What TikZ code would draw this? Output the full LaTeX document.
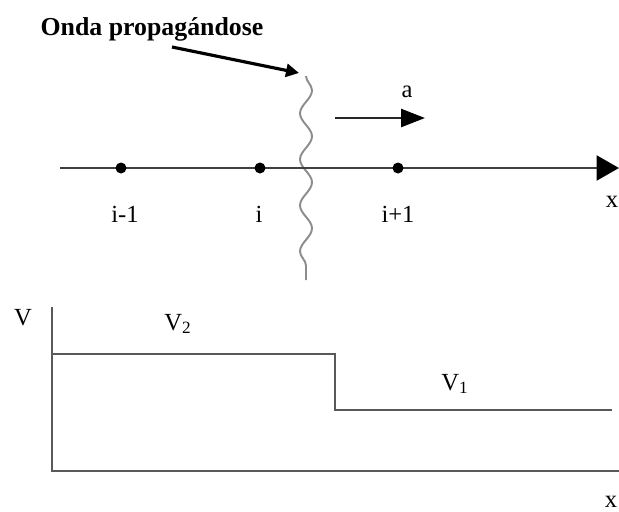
\documentclass[tikz,border=0pt]{standalone}
\usepackage{fontspec}
\setmainfont{Liberation Serif}
\usetikzlibrary{arrows.meta,decorations.pathmorphing}
\begin{document}
\begin{tikzpicture}[x=0.02cm,y=-0.02cm,
  lbl/.style={inner sep=0pt,font=\fontsize{14}{16}\selectfont},
  dotp/.style={circle,fill=black,inner sep=0pt,minimum size=0.22cm},
  axisline/.style={line width=1.5pt,draw=black!75},
  plotline/.style={line width=1.5pt,draw=black!65},
  bigtip/.style={-{Triangle[length=0.45cm,width=0.5cm,color=black]}}]
\useasboundingbox (0,0) rectangle (619,511);
% title and pointer
\node[inner sep=0pt,font=\bfseries\fontsize{14.7}{16}\selectfont] (title) at (152,29) {Onda propagándose};
\coordinate (ptail) at (172,47);
\coordinate (phead) at (299,73);
\draw[line width=1.8pt,-{Triangle[length=0.26cm,width=0.26cm]}] (ptail) -- (phead);
% wave front
\coordinate (wtop) at (306,76);
\coordinate (wbot) at (306,280);
\draw[black!45,line width=1.1pt,decorate,decoration={snake,segment length=0.92cm,amplitude=0.12cm}] (wtop) -- (wbot);
% direction arrow
\coordinate (atail) at (335,118);
\coordinate (ahead) at (425,118);
\draw[line width=1.5pt,draw=black!85,-{Triangle[length=0.48cm,width=0.36cm,color=black]}] (atail) -- (ahead);
\node[lbl] (alab) at (407,92) {a};
% x axis
\coordinate (xstart) at (60,168);
\coordinate (xend) at (619,168);
\draw[axisline,bigtip] (xstart) -- (xend);
\node[dotp] (p1) at (121,168) {};
\node[dotp] (p2) at (260,168) {};
\node[dotp] (p3) at (398,168) {};
\node[lbl] (l1) at (125,214) {i-1};
\node[lbl] (l2) at (259,214) {i};
\node[lbl] (l3) at (398,214) {i+1};
\node[lbl] (lx) at (612,202) {x};
% lower plot
\coordinate (o) at (52,471);
\coordinate (vtop) at (52,307);
\coordinate (hend) at (619,471);
\draw[plotline] (vtop) -- (o) -- (hend);
\coordinate (s1) at (52,354);
\coordinate (s2) at (335,354);
\coordinate (s3) at (335,410);
\coordinate (s4) at (612,410);
\draw[plotline] (s1) -- (s2) -- (s3) -- (s4);
\node[lbl] (vlab) at (23,318) {V};
\node[lbl] (v2) at (178,324) {V\textsubscript{2}};
\node[lbl] (v1) at (455,384) {V\textsubscript{1}};
\node[lbl,anchor=south] (lx2) at (611,508) {x};
\end{tikzpicture}
\end{document}
